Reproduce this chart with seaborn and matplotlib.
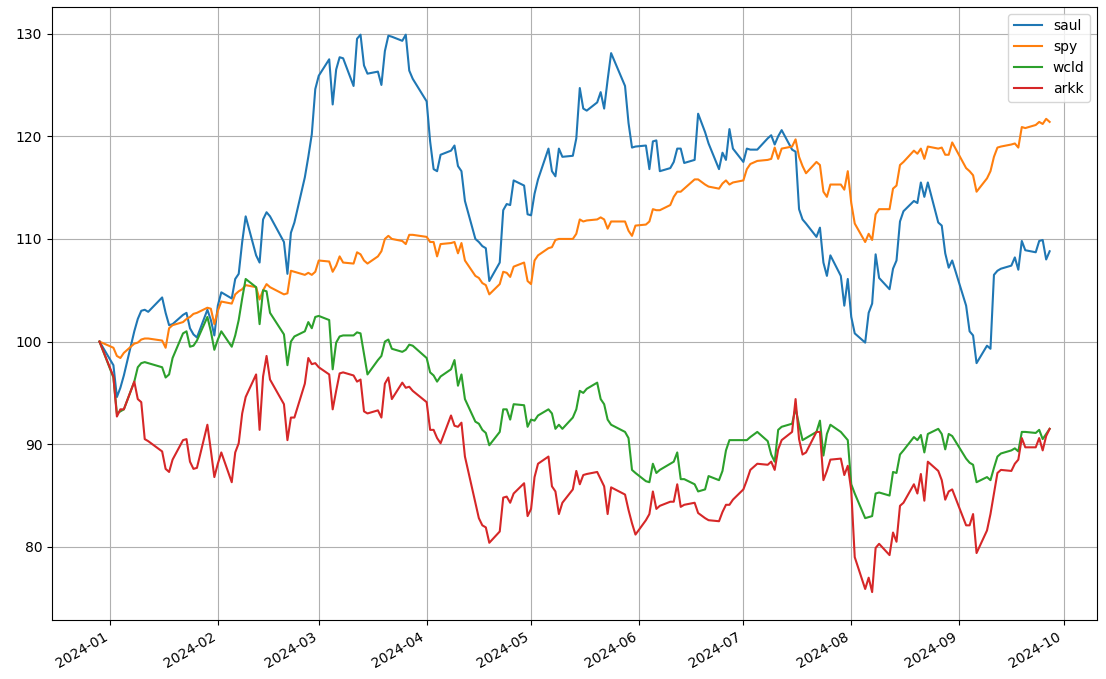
import numpy as np
import pandas as pd
import matplotlib
matplotlib.use("Agg")
import matplotlib.pyplot as plt
import seaborn as sns

tickers = ["saul", "spy", "wcld", "arkk"]
colors = ["#1f77b4", "#ff7f0e", "#2ca02c", "#d62728"]
start_date = "2023-12-29"
end_date = "2024-09-27"
holidays = ["2024-01-01", "2024-01-15", "2024-02-19", "2024-03-29",
            "2024-05-27", "2024-06-19", "2024-07-04", "2024-09-02"]

saul = [
    100.0,
    97.7, 94.6, 95.5, 96.7,
    101.0, 102.2, 103.0, 103.1, 102.9,
    104.3, 102.8, 101.6, 101.7,
    102.6, 102.8, 101.3, 100.7, 100.4,
    103.1, 102.1, 100.6,
    103.5, 104.8,
    104.2, 106.1, 106.6, 109.7, 112.2,
    108.4, 107.7, 111.9, 112.6, 112.2,
    109.7, 106.6, 110.6, 111.6,
    116.0, 118.0, 120.2, 124.6,
    125.9,
    127.5, 123.1, 126.5, 127.7, 127.6,
    124.9, 129.5, 129.9, 126.9, 126.1,
    126.3, 125.0, 128.3, 129.8, 129.7,
    129.3, 129.9, 126.4, 125.6,
    123.4, 119.5, 116.8, 116.6, 118.2,
    118.6, 119.1, 117.1, 116.6, 113.7,
    110.0, 109.7, 109.3, 109.1, 105.9,
    107.7, 112.8, 113.4, 113.3, 115.7,
    115.2, 112.4,
    112.3, 114.4, 115.8,
    118.8, 116.6, 116.1, 118.8, 118.0,
    118.1, 119.8, 124.7, 122.7, 122.5,
    123.3, 124.3, 122.7, 125.5, 128.1,
    124.9, 121.3, 118.9, 119.0,
    119.1, 116.8, 119.5, 119.6, 116.6,
    116.9, 117.5, 118.8, 118.8, 117.4,
    117.7, 122.2, 120.4, 119.3,
    116.8, 118.4, 117.7, 120.7, 118.8,
    117.5, 118.8, 118.7, 118.7,
    119.8, 120.1, 119.2, 120.0, 120.6,
    118.7, 118.5, 112.9, 111.9, 111.5,
    110.2, 111.1, 107.7, 106.4, 108.4,
    106.4, 103.5, 106.1,
    102.4, 100.8,
    99.9, 102.8, 103.7, 108.5, 106.2,
    105.1, 107.1, 107.9, 111.7, 112.7,
    113.7, 113.5, 115.5, 114.1, 115.5,
    111.6, 111.3, 108.6, 107.2, 107.9,
    103.5, 101.0, 100.6, 97.9,
    99.6, 99.3, 106.5, 106.9, 107.1,
    107.4, 108.2, 107.0, 109.8, 108.9,
    108.7, 109.8, 109.9, 108.0, 108.8,
]

spy = [
    100.0,
    99.4, 98.6, 98.4, 98.9,
    99.8, 99.9, 100.2, 100.3, 100.3,
    100.1, 99.4, 101.3, 101.6,
    101.9, 102.2, 102.4, 102.7, 102.8,
    103.3, 103.2, 101.7,
    103.0, 103.9,
    103.7, 104.6, 104.9, 105.1, 105.5,
    105.3, 104.1, 105.0, 105.6, 105.3,
    104.6, 104.7, 106.9, 106.8,
    106.5, 106.7, 106.5, 106.8,
    107.9,
    107.8, 106.8, 107.4, 108.3, 107.7,
    107.6, 108.7, 108.5, 107.9, 107.6,
    108.3, 108.8, 110.0, 110.3, 110.0,
    109.8, 109.5, 110.4, 110.4,
    110.2, 109.7, 109.7, 108.3, 109.5,
    109.6, 109.7, 108.6, 109.6, 107.9,
    106.4, 106.2, 105.7, 105.5, 104.6,
    105.6, 106.8, 106.7, 106.3, 107.3,
    107.7, 105.9,
    105.6, 107.9, 108.4,
    109.1, 109.2, 109.9, 110.0, 110.0,
    110.0, 110.5, 111.9, 111.7, 111.8,
    111.9, 112.1, 111.9, 111.0, 111.7,
    111.7, 110.8, 110.3, 111.3,
    111.4, 111.7, 112.9, 112.8, 112.8,
    113.3, 114.1, 114.6, 114.6, 114.9,
    115.8, 115.8, 115.3, 115.1,
    114.9, 115.4, 115.7, 115.3, 115.5,
    115.7, 116.8, 117.3, 117.6,
    117.7, 117.8, 118.9, 117.8, 118.8,
    119.0, 119.7, 118.0, 117.1, 116.4,
    117.5, 117.2, 114.6, 114.1, 115.3,
    115.3, 114.8, 116.6,
    113.5, 111.5,
    109.7, 110.5, 109.9, 112.4, 112.9,
    112.9, 114.9, 115.2, 117.2, 117.5,
    118.6, 118.3, 118.8, 117.8, 119.0,
    118.8, 118.9, 118.2, 118.2, 119.4,
    116.9, 116.6, 116.2, 114.6,
    115.9, 116.6, 118.0, 118.9, 119.0,
    119.2, 119.3, 118.9, 120.9, 120.8,
    121.1, 121.4, 121.2, 121.7, 121.4,
]

wcld = [
    100.0,
    96.5, 93.0, 93.2, 93.4,
    96.1, 97.5, 97.9, 98.0, 97.9,
    97.5, 96.5, 96.8, 98.4,
    100.8, 101.0, 99.5, 99.6, 100.1,
    102.4, 101.0, 99.2,
    100.2, 101.0,
    99.5, 100.6, 102.1, 104.2, 106.1,
    105.3, 101.7, 105.0, 104.9, 102.8,
    100.7, 97.7, 100.0, 100.5,
    101.0, 101.9, 101.3, 102.4,
    102.5,
    102.1, 97.3, 99.9, 100.5, 100.6,
    100.6, 100.9, 100.8, 98.8, 96.8,
    98.2, 98.6, 100.0, 100.2, 99.3,
    99.0, 99.2, 99.7, 99.6,
    98.4, 97.0, 96.7, 96.1, 96.6,
    97.3, 98.2, 95.7, 96.8, 94.4,
    92.2, 92.0, 91.4, 91.1, 89.9,
    91.2, 93.4, 93.4, 92.4, 93.9,
    93.8, 91.7,
    92.4, 92.3, 92.8,
    93.4, 93.0, 91.5, 91.9, 91.5,
    92.6, 93.4, 95.2, 95.0, 95.4,
    96.0, 94.4, 93.9, 92.4, 91.9,
    91.2, 90.6, 87.5, 87.2,
    86.4, 86.3, 88.1, 87.2, 87.5,
    88.1, 88.3, 89.2, 86.6, 86.6,
    86.1, 85.4, 85.6, 86.9,
    86.5, 87.4, 89.4, 90.4, 90.4,
    90.4, 90.4, 90.7, 91.2,
    90.3, 89.0, 88.3, 91.4, 91.7,
    92.0, 93.5, 91.9, 90.4, 90.6,
    91.2, 92.3, 88.9, 91.0, 91.9,
    91.2, 90.8, 90.4,
    86.1, 85.2,
    82.8, 82.9, 83.0, 85.2, 85.3,
    85.0, 87.3, 87.2, 89.0, 89.4,
    90.7, 90.4, 90.9, 89.2, 91.0,
    91.5, 91.0, 89.5, 91.0, 90.8,
    88.6, 88.2, 88.0, 86.3,
    86.8, 86.5, 87.7, 88.8, 89.1,
    89.4, 89.6, 89.3, 91.2, 91.2,
    91.1, 91.4, 90.5, 91.0, 91.5,
]

arkk = [
    100.0,
    96.6, 92.7, 93.4, 93.4,
    96.1, 94.4, 94.1, 90.5, 90.3,
    89.3, 87.6, 87.3, 88.5,
    90.4, 90.5, 88.3, 87.6, 87.7,
    91.9, 89.4, 86.8,
    88.1, 89.2,
    86.3, 89.2, 90.1, 93.0, 94.6,
    96.8, 91.4, 96.6, 98.6, 96.3,
    93.9, 90.4, 92.6, 92.6,
    95.9, 98.4, 97.8, 97.9,
    97.5,
    96.8, 93.4, 95.2, 96.9, 97.0,
    96.7, 96.1, 96.3, 93.2, 93.0,
    93.3, 92.6, 95.9, 96.5, 94.4,
    96.0, 95.5, 95.6, 95.2,
    94.1, 91.4, 91.4, 90.6, 90.1,
    92.8, 91.8, 91.7, 92.1, 88.8,
    84.3, 82.8, 82.1, 81.9, 80.4,
    81.5, 84.8, 84.9, 84.3, 85.2,
    86.2, 83.0,
    83.7, 86.8, 88.1,
    88.8, 85.9, 85.4, 83.2, 84.3,
    85.6, 87.4, 86.1, 87.0, 87.1,
    87.3, 86.6, 85.9, 83.2, 85.8,
    85.1, 83.6, 82.3, 81.2,
    82.6, 83.2, 85.4, 83.7, 84.0,
    84.4, 84.4, 86.1, 83.9, 84.1,
    84.3, 83.3, 82.8, 82.6,
    82.5, 83.4, 84.1, 84.1, 84.6,
    85.6, 86.5, 87.5, 88.1,
    88.0, 88.3, 87.5, 89.5, 90.4,
    91.2, 94.4, 90.5, 89.0, 89.2,
    91.2, 91.2, 86.5, 87.4, 88.5,
    88.6, 87.0, 87.9,
    85.5, 79.0,
    75.9, 77.0, 75.6, 79.9, 80.3,
    79.2, 81.4, 80.5, 84.0, 84.3,
    86.1, 85.2, 87.1, 84.5, 88.3,
    87.4, 86.5, 84.6, 85.4, 85.6,
    82.1, 82.1, 83.2, 79.4,
    81.6, 83.2, 85.2, 87.2, 87.5,
    87.4, 88.1, 88.5, 90.6, 89.7,
    89.7, 90.6, 89.4, 90.8, 91.5,
]

dates = pd.bdate_range(start_date, end_date, freq="C", holidays=holidays)
series = dict(zip(tickers, [saul, spy, wcld, arkk]))
frames = []
for name in tickers:
    vals = series[name]
    assert len(vals) == len(dates), (name, len(vals), len(dates))
    frames.append(pd.DataFrame({"date": dates, "value": vals, "ticker": name}))
df = pd.concat(frames, ignore_index=True)

fig, ax = plt.subplots(figsize=(11.06, 6.79), dpi=100)
sns.lineplot(data=df, x="date", y="value", hue="ticker", hue_order=tickers,
             palette=colors, estimator=None, linewidth=1.5, ax=ax)
ax.grid(True)
ax.set_xlabel("")
ax.set_ylabel("")
sns.move_legend(ax, "upper right", title=None)
fig.autofmt_xdate()
fig.subplots_adjust(left=0.047, right=0.992, top=0.99, bottom=0.087)
fig.savefig("out.png", dpi=100)
